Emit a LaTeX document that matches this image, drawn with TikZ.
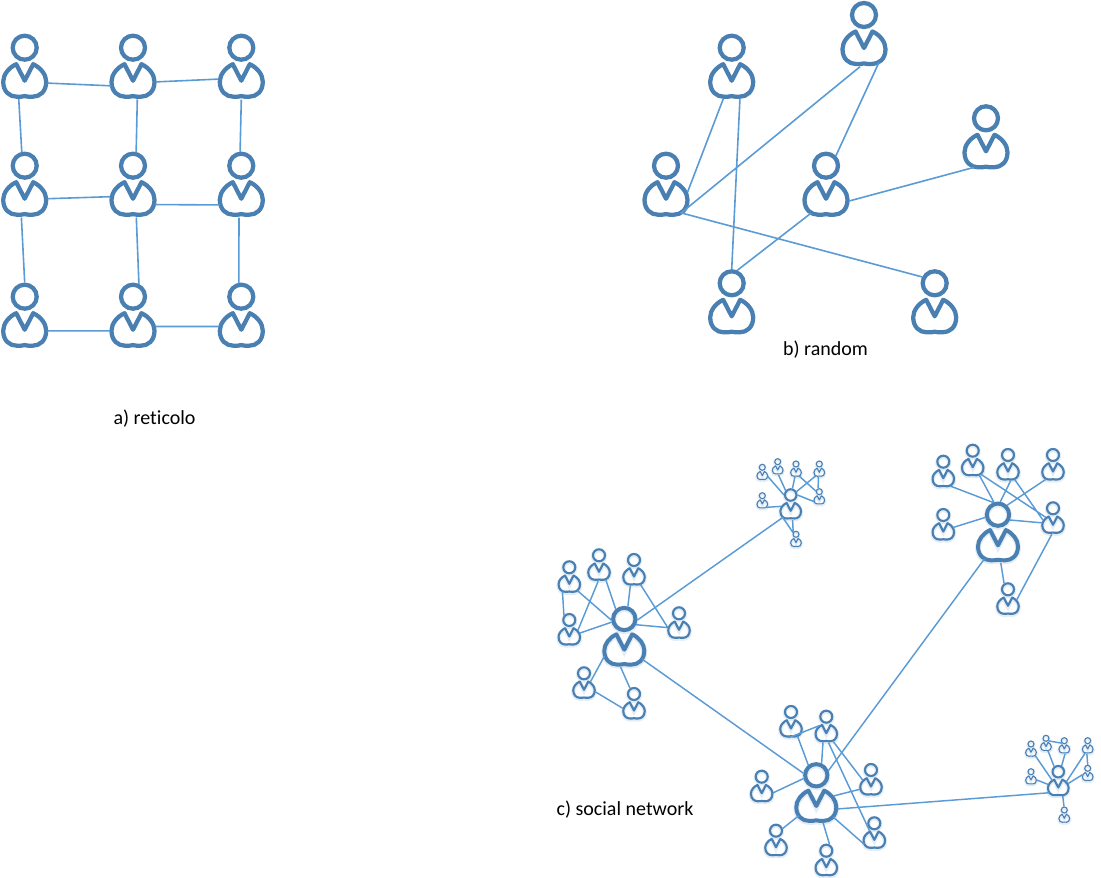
\documentclass[tikz,border=0pt]{standalone}
\usepackage{fontspec}
\setmainfont{Carlito}[Ligatures=NoCommon]
\usetikzlibrary{shapes.geometric}
\definecolor{pers}{HTML}{4A7FB2}
\definecolor{lnk}{HTML}{5B9BD5}
\definecolor{glowc}{HTML}{E3EDF7}
\tikzset{
  link/.style={draw=lnk,line width=1.2pt},
  linkc/.style={draw=lnk,line width=1.1pt},
  headnode/.style={circle,draw=pers,fill=none,inner sep=0pt},
  bodynode/.style={ellipse,inner sep=0pt,outer sep=0pt},
  label/.style={font=\fontsize{15}{17}\selectfont,text=black,inner sep=0pt}
}
% #1 glow colour, #2 name, #3 x, #4 y, #5 scale
\newcommand\bodyoutline{(0,33) -- (-8.5,16.5) .. controls (-16,20) and (-21.5,27) .. (-21.5,34)
  .. controls (-21.5,44) and (-15,49) .. (-8,49) .. controls (-4,49) and (-2,49) .. (0,48.4)
  .. controls (2,49) and (4,49) .. (8,49) .. controls (15,49) and (21.5,44) .. (21.5,34)
  .. controls (21.5,27) and (16,20) .. (8.5,16.5) -- cycle}
\newcommand\person[5][none]{%
  \pgfmathsetlengthmacro\pu{#5*0.75pt}%
  \pgfmathsetlengthmacro\pw{#5*3.2pt}%
  \pgfmathsetlengthmacro\gw{#5*3.2pt+1.6pt}%
  \pgfmathsetlengthmacro\hd{24*\pu}%
  \pgfmathsetlengthmacro\ho{2*\pu}%
  \pgfmathsetlengthmacro\bw{46*\pu}%
  \pgfmathsetlengthmacro\bh{38*\pu}%
  \begin{scope}[shift={(#3,#4)},x=\pu,y=-\pu]
    \draw[draw=#1,line width=\gw,yshift=-0.7pt] \bodyoutline (12,0) arc[start angle=0,end angle=360,radius=12];
    \draw[draw=pers,line width=\pw,line join=round] \bodyoutline;
    \node[headnode,minimum size=\hd,line width=\pw,outer sep=\ho] (#2h) at (0,0) {};
    \node[bodynode,minimum width=\bw,minimum height=\bh] (#2) at (0,33) {};
  \end{scope}}
\begin{document}
\begin{tikzpicture}[x=0.75pt,y=-0.75pt]
\useasboundingbox (0,0) rectangle (1101,878);
% a) grid
\person{aa}{24.7}{47.7}{1}\person{ab}{133}{47.7}{1}\person{ac}{241.3}{47.7}{1}
\person{ba}{24.7}{165.7}{1}\person{bb}{133}{165.7}{1}\person{bc}{241.3}{165.7}{1}
\person{ca}{24.7}{296.7}{1}\person{cb}{133}{296.7}{1}\person{cc}{241.3}{296.7}{1}
\path[link]
 (aa.-6) -- (ab.193) (ab.-3) -- (ac.176)
 (ba.0) -- (bb.175) (bb.-15) -- (bc.196)
 (ca.-3) -- (cb.183) (cb.8) -- (cc.172)
 (aa.252) -- (bah.102) (ab.283) -- (bbh.77) (ac.270) -- (bch.95)
 (ba.260) -- (cah.90) (bb.280) -- (cbh.65) (bc.263) -- (cch.100);
\node[label] (la) at (154.5,419) {a) reticolo};
% b) random
\person{ra}{731.7}{47.7}{1}\person{rb}{864}{15}{1}\person{rc}{986}{118.3}{1}
\person{rd}{666}{165.7}{1}\person{re}{826}{165.7}{1}\person{rf}{731.7}{283.3}{1}\person{rg}{934.7}{283.3}{1}
\path[link]
 (ra.245) -- (rd.17) (ra.295) -- (rfh.90) (rb.258) -- (rd.-45) (rb.-44) -- (reh.45)
 (rc.233) -- (re.-6) (re.224) -- (rfh.67) (rd.-43) -- (rgh.153);
\node[label] (lb) at (825.5,350) {b) random};
% c) cluster 1
\person[glowc]{ph}{624.3}{619}{0.93}
\person[glowc]{pa}{569.3}{567.3}{0.5}\person[glowc]{pb}{599}{555.3}{0.5}\person[glowc]{pc}{634}{560}{0.5}
\person[glowc]{pd}{679}{613.3}{0.5}\person[glowc]{pe}{569.3}{620}{0.5}\person[glowc]{pf}{584}{673.3}{0.5}\person[glowc]{pg}{634}{694}{0.5}
\path[linkc]
 (pa.228) -- (peh.140) (pa.-40) -- (phh.185) (pb.265) -- (pe.36) (pb.-49) -- (phh.131)
 (pc.248) -- (phh.74) (pc.-51) -- (pd.169) (pe.18) -- (phh.194) (phh.-26) -- (pd.169)
 (ph.198) -- (pf.51) (ph.258) -- (pgh.125) (pf.-10) -- (pg.169);
% c) cluster 2
\person[glowc]{th}{790.7}{495}{0.48}
\person[glowc]{ta}{762.3}{467.3}{0.25}\person[glowc]{tb}{777.7}{461.7}{0.25}\person[glowc]{tc}{796}{464}{0.25}
\person[glowc]{td}{819.3}{464}{0.25}\person[glowc]{te}{762.3}{495.7}{0.25}\person[glowc]{tf}{819.3}{491.7}{0.25}\person[glowc]{tg}{796}{534.3}{0.25}
\path[linkc]
 (ta.-10) -- (thh.180) (tb.278) -- (thh.139) (tc.257) -- (thh.75) (td.225) -- (thh.30)
 (tc.-50) -- (tfh.170) (td.260) -- (tfh.110) (te.-40) -- (th.155) (thh.0) -- (tf.197)
 (th.282) -- (tgh.144) (th.215) -- (tgh.150);
% c) cluster 3
\person[glowc]{uh}{816.3}{775.3}{0.93}
\person[glowc]{ua}{791}{712}{0.5}\person[glowc]{ub}{826.3}{716.7}{0.5}\person[glowc]{uc}{761.7}{776.7}{0.5}
\person[glowc]{ud}{871}{770}{0.5}\person[glowc]{ue}{776}{830.7}{0.5}\person[glowc]{uf}{874.3}{823.3}{0.5}\person[glowc]{ug}{826.3}{850.7}{0.5}
\path[linkc]
 (ua.255) -- (ub.133) (ua.-50) -- (uhh.128) (ub.250) -- (uhh.66) (ub.-50) -- (ud.142)
 (ub.283) -- (uf.118) (uc.2) -- (uhh.194) (ud.194) -- (uh.30) (uh.-33) -- (uf.204)
 (uh.209) -- (ueh.18) (uh.292) -- (ugh.62);
% c) cluster 4
\person[glowc]{vh}{998}{514.7}{0.93}
\person[glowc]{va}{943.3}{461.7}{0.5}\person[glowc]{vb}{972.7}{450.7}{0.5}\person[glowc]{vc}{1008}{455}{0.5}
\person[glowc]{vd}{1053}{455}{0.5}\person[glowc]{ve}{943.3}{515}{0.5}\person[glowc]{vf}{1053}{508.3}{0.5}\person[glowc]{vg}{1008}{589.3}{0.5}
\path[linkc]
 (va.-49) -- (vhh.111) (vb.-50) -- (vhh.108) (vb.-41) -- (vf.134) (vc.-74) -- (vhh.80)
 (vc.-50) -- (vf.155) (vd.228) -- (vhh.46) (ve.22) -- (vhh.192) (vhh.-24) -- (vf.170)
 (vh.-81) -- (vgh.124) (vf.263) -- (vg.35);
% c) cluster 5
\person[glowc]{wh}{1058.3}{771.7}{0.48}
\person[glowc]{wa}{1031}{744}{0.25}\person[glowc]{wb}{1046}{738.3}{0.25}\person[glowc]{wc}{1064.3}{740.7}{0.25}
\person[glowc]{wd}{1087.7}{740.7}{0.25}\person[glowc]{we}{1031}{771.7}{0.25}\person[glowc]{wf}{1087.7}{768.3}{0.25}\person[glowc]{wg}{1064.3}{810}{0.25}
\path[linkc]
 (wa.-38) -- (wh.130) (wbh.-47) -- (wch.225) (wb.-65) -- (whh.129) (wc.-81) -- (whh.60)
 (wd.238) -- (wh.36) (wd.260) -- (wfh.90) (we.0) -- (wh.163) (wh.22) -- (wf.160) (wh.-62) -- (wgh.95);
% c) long links between hubs
\path[linkc]
 (phh.-5) -- (th.220) (ph.-28) -- (uhh.171) (uhh.21) -- (vh.225) (uh.-8) -- (wh.210);
\node[label] (lc) at (625,810) {c) social network};
\end{tikzpicture}
\end{document}
